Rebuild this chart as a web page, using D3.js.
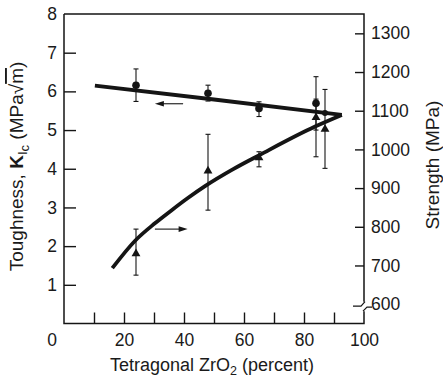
<!DOCTYPE html>
<html><head><meta charset="utf-8">
<script src="https://cdn.jsdelivr.net/npm/d3@7"></script>
<style>
body{margin:0;background:#fff}
text{font-family:"Liberation Sans",Arial,Helvetica,sans-serif;fill:#1a1a1a}
</style>
</head><body>
<svg id="c" width="443" height="377"></svg>
<script>
// ---- data ----
const pct = [24, 48, 65, 84, 87];
const toughness = [6.16, 5.95, 5.56, 5.69, 5.44];
const toughHi = [6.58, 6.16, 5.73, 6.38, 5.44];
const toughLo = [5.74, 5.75, 5.35, 5.0, 5.44];
const strength = [733, 947, 981, 1085, 1055];
const strengthHi = [794, 1039, 994, 1130, 1155];
const strengthLo = [675, 843, 955, 981, 951];
const toughFitX = [10.3, 50, 92.6];
const toughFitY = [6.15, 5.79, 5.39];
const strengthFitX = [16.1, 23.7, 30.3, 35.9, 41.4, 47, 56.4, 65.3, 83.7, 92.6];
const strengthFitY = [693, 764, 809, 843, 875, 905, 949, 986, 1059, 1089];
const xTicks = [10, 20, 30, 40, 50, 60, 70, 80, 90, 100];
const xTickLabels = [20, 40, 60, 80, 100];
const toughTicks = [1, 2, 3, 4, 5, 6, 7, 8];
const strengthTicks = [600, 700, 800, 900, 1000, 1100, 1200, 1300];
const toughArrowX = [39.7, 30.3], toughArrowY = 5.68;
const strengthArrowX = [30.3, 41.2], strengthArrowY = 794;

// ---- scales ----
const svg = d3.select("#c");
const x = d3.scaleLinear([0, 100], [64, 364]);
const yT = d3.scaleLinear([0, 8], [323.5, 14]);
const yS = d3.scaleLinear([550, 1350], [323.5, 14]);
const ink = "#151515";

// axes
const gL = svg.append("g").attr("transform", `translate(${x(0)},0)`)
  .call(d3.axisLeft(yT).tickValues(toughTicks).tickSizeInner(-12).tickSizeOuter(0).tickPadding(7).tickFormat(d3.format("d")));
const gB = svg.append("g").attr("transform", `translate(0,${yT(0)})`)
  .call(d3.axisBottom(x).tickValues(xTicks).tickSizeInner(-11).tickSizeOuter(0).tickPadding(10)
    .tickFormat(d => xTickLabels.includes(d) ? d : ""));
const gR = svg.append("g").attr("transform", `translate(${x(100)},0)`)
  .call(d3.axisRight(yS).tickValues(strengthTicks).tickSizeInner(-9).tickSizeOuter(0).tickPadding(7).tickFormat(d3.format("d")));
[gL, gB, gR].forEach(g => {
  g.select(".domain").remove();
  g.selectAll("line").attr("stroke", ink).attr("stroke-width", 1.4);
  g.selectAll("text").attr("font-size", 17.5).attr("fill", ink)
    .style("font-family", '"Liberation Sans",Arial,sans-serif');
});
gR.selectAll(".tick").filter(d => d === 600).select("line").remove();
gL.selectAll(".tick").filter(d => d === 8).select("line").remove();
gB.selectAll(".tick").filter(d => d === 100).select("line").remove();

// origin label
svg.append("text").attr("x", x(0) - 12).attr("y", yT(0) + 22.5)
  .attr("text-anchor", "middle").attr("font-size", 17.5).attr("fill", ink).text("0");

// frame
const fr = svg.append("g").attr("stroke", ink).attr("stroke-width", 1.5).attr("fill", "none");
const brk = yS(600);
fr.append("path").attr("d",
  `M${x(0)},${yT(8)} H${x(100)} V${brk - 2.5} M${x(100)},${brk + 7} V${yT(0)} H${x(0)} V${yT(8)}`);
// axis break squiggle
fr.append("path").attr("stroke-width", 1.2).attr("d",
  `M${x(100) - 11},${brk + 2} H${x(100) - 3} L${x(100) + 1},${brk - 2.5}
   M${x(100) - 1},${brk + 7} L${x(100) + 3},${brk + 3} H${x(100) + 8}`);

// fitted curves
const lineT = d3.line().x(d => x(d[0])).y(d => yT(d[1]));
const lineS = d3.line().x(d => x(d[0])).y(d => yS(d[1])).curve(d3.curveMonotoneX);
svg.append("path").attr("d", lineT(toughFitX.map((v, i) => [v, toughFitY[i]])))
  .attr("fill", "none").attr("stroke", ink).attr("stroke-width", 3.8);
svg.append("path").attr("d", lineS(strengthFitX.map((v, i) => [v, strengthFitY[i]])))
  .attr("fill", "none").attr("stroke", ink).attr("stroke-width", 3.8);

// error bars
function errBars(xs, lo, hi, sc) {
  const g = svg.append("g").attr("stroke", ink).attr("stroke-width", 1.1);
  xs.forEach((v, i) => {
    if (hi[i] === lo[i]) return;
    const cx = x(v);
    g.append("line").attr("x1", cx).attr("x2", cx).attr("y1", sc(hi[i])).attr("y2", sc(lo[i]));
    g.append("line").attr("x1", cx - 2.5).attr("x2", cx + 2.5).attr("y1", sc(hi[i])).attr("y2", sc(hi[i]));
    g.append("line").attr("x1", cx - 2.5).attr("x2", cx + 2.5).attr("y1", sc(lo[i])).attr("y2", sc(lo[i]));
  });
}
errBars(pct, toughLo, toughHi, yT);
errBars(pct, strengthLo, strengthHi, yS);

// markers
svg.append("g").selectAll("circle").data(pct).join("circle")
  .attr("cx", d => x(d)).attr("cy", (d, i) => yT(toughness[i]))
  .attr("r", (d, i) => i === 4 ? 3 : 3.8).attr("fill", ink);
svg.append("g").selectAll("path").data(pct).join("path")
  .attr("transform", (d, i) => `translate(${x(d)},${yS(strength[i]) + 1})`)
  .attr("d", d3.symbol(d3.symbolTriangle, 34)).attr("fill", ink);

// arrows
function arrow(xs, yv, sc) {
  const x1 = x(xs[0]), x2 = x(xs[1]), yy = sc(yv);
  const dir = Math.sign(x2 - x1);
  svg.append("line").attr("x1", x1).attr("x2", x2 - dir * 6).attr("y1", yy).attr("y2", yy)
    .attr("stroke", ink).attr("stroke-width", 1.1);
  svg.append("path").attr("fill", ink)
    .attr("d", `M${x2},${yy} L${x2 - dir * 9},${yy - 2.8} L${x2 - dir * 9},${yy + 2.8} Z`);
}
arrow(toughArrowX, toughArrowY, yT);
arrow(strengthArrowX, strengthArrowY, yS);

// titles
const xt = svg.append("text").attr("x", 212).attr("y", 371).attr("text-anchor", "middle")
  .attr("font-size", 18).attr("fill", ink);
xt.append("tspan").text("Tetragonal ZrO");
xt.append("tspan").attr("font-size", 12.5).attr("dy", 4).text("2");
xt.append("tspan").attr("dy", -4).text(" (percent)");

const lt = svg.append("text").attr("transform", "translate(23,166.5) rotate(-90)")
  .attr("text-anchor", "middle").attr("font-size", 19).attr("fill", ink);
lt.append("tspan").text("Toughness, ");
lt.append("tspan").attr("font-weight", "bold").text("K");
lt.append("tspan").attr("font-size", 13).attr("dy", 4).text("I");
lt.append("tspan").attr("font-size", 13).attr("dy", 2).text("c");
lt.append("tspan").attr("dy", -6).text(" (MPa√");
lt.append("tspan").style("text-decoration", "overline").text("m");
lt.append("tspan").text(")");

svg.append("text").attr("transform", "translate(439,165) rotate(-90)")
  .attr("text-anchor", "middle").attr("font-size", 19).attr("fill", ink).text("Strength (MPa)");
</script>
</body></html>
